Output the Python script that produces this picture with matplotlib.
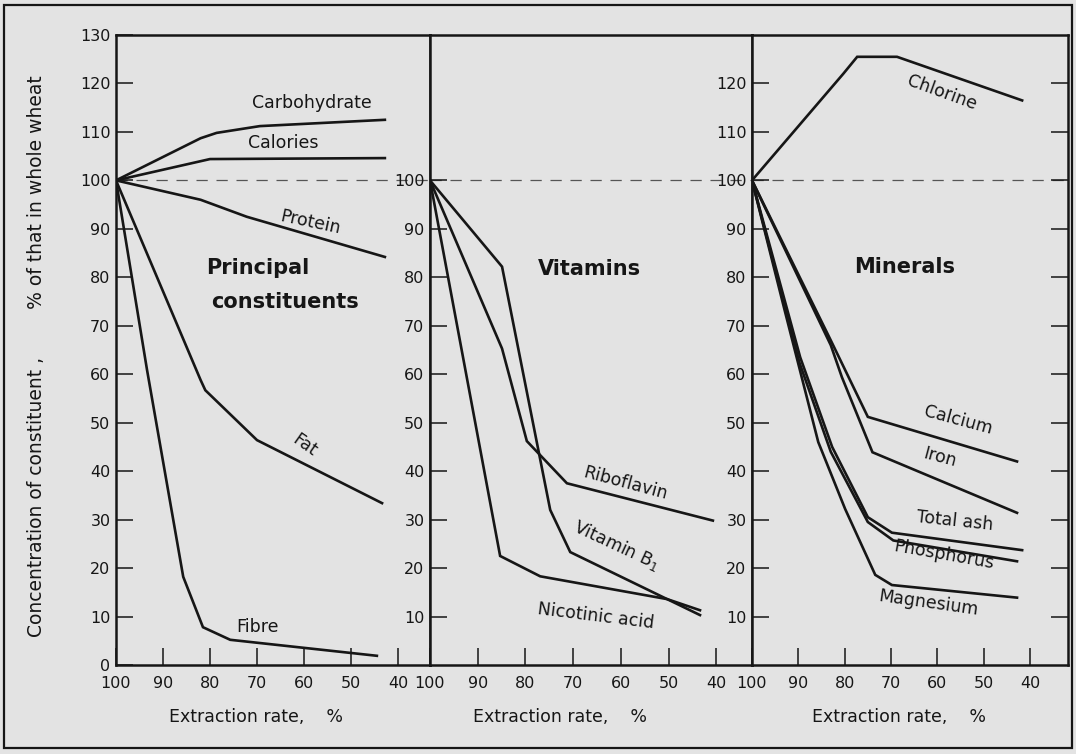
import matplotlib
matplotlib.use("Agg")
import matplotlib.pyplot as plt
from matplotlib.patches import Rectangle

# ---------------- data (extraction rate %, % of whole wheat) ----------------
# Principal constituents
carb_x = [100, 82, 78.6, 69.4, 42.8]
carb_y = [100, 108.7, 109.8, 111.2, 112.5]
cal_x = [100, 80, 42.8]
cal_y = [100, 104.4, 104.6]
prot_x = [100, 82, 72.2, 42.8]
prot_y = [100, 96, 92.5, 84.2]
fat_x = [100, 82, 81, 70, 43.4]
fat_y = [100, 58.8, 56.7, 46.4, 33.4]
fibre_x = [100, 93.4, 85.7, 81.5, 75.7, 44.5]
fibre_y = [100, 60.9, 18.2, 7.8, 5.2, 1.9]

# Vitamins
ribo_x = [100, 84.9, 79.7, 71.3, 40.7]
ribo_y = [100, 65.3, 46.2, 37.5, 29.8]
b1_x = [100, 84.9, 74.8, 70.6, 43.4]
b1_y = [100, 82.2, 32.0, 23.3, 10.3]
nic_x = [100, 85.3, 76.9, 50.3, 43.4]
nic_y = [100, 22.5, 18.3, 13.6, 11.3]

# Minerals
chl_x = [100, 80.3, 77.3, 68.7, 41.7]
chl_y = [100, 122, 125.5, 125.5, 116.5]
calc_x = [100, 83, 75, 42.8]
calc_y = [100, 67, 51.2, 42]
iron_x = [100, 83, 80.6, 74, 42.8]
iron_y = [100, 66, 59.4, 43.9, 31.4]
ash_x = [100, 89.6, 82.7, 75, 69.8, 41.7]
ash_y = [100, 63.5, 45, 30.5, 27.3, 23.7]
phos_x = [100, 89.8, 83, 75, 69.5, 42.8]
phos_y = [100, 62.5, 44, 29.5, 25.7, 21.4]
mag_x = [100, 92.9, 85.7, 79.9, 73.4, 69.8, 42.8]
mag_y = [100, 73, 46, 32.2, 18.6, 16.5, 13.9]

x_ticks = [100, 90, 80, 70, 60, 50, 40]
y_ticks_p1 = list(range(0, 131, 10))
y_ticks_p2 = list(range(10, 101, 10))
y_ticks_p3 = list(range(10, 121, 10))

panel_titles = [["Principal", "constituents"], ["Vitamins"], ["Minerals"]]
y_label = "Concentration of constituent ,        % of that in whole wheat"
x_label = "Extraction rate,    %"

# ---------------- style ----------------
BG = "#e3e3e3"
INK = "#161616"
LW = 1.9
plt.rcParams["font.family"] = ["DejaVu Sans"]

fig = plt.figure(figsize=(10.76, 7.54), dpi=100, facecolor=BG)
W, H = 1076.0, 754.0
bottom = 1 - 665 / H
height = (665 - 35) / H
ax1 = fig.add_axes([116 / W, bottom, (430 - 116) / W, height])
ax2 = fig.add_axes([430 / W, bottom, (752 - 430) / W, height])
ax3 = fig.add_axes([752 / W, bottom, (1068 - 752) / W, height])
axes = [ax1, ax2, ax3]
xlims = [(100, 33.2), (100, 32.5), (100, 31.8)]

for ax, xl in zip(axes, xlims):
    ax.set_facecolor(BG)
    ax.set_xlim(*xl)
    ax.set_ylim(0, 130)
    ax.set_xticks(x_ticks)
    ax.set_xticklabels([str(t) for t in x_ticks])
    ax.tick_params(axis="both", direction="in", length=12, width=1.1,
                   colors=INK, labelsize=11.5)
    ax.tick_params(axis="x", pad=8)
    ax.tick_params(axis="y", pad=4)
    for s in ax.spines.values():
        s.set_linewidth(1.8)
        s.set_color(INK)
    ax.axhline(100, color="#555555", lw=0.9, ls=(0, (9, 7)), zorder=1)

ax1.set_yticks(y_ticks_p1)
ax2.set_yticks(y_ticks_p2)
ax3.set_yticks(y_ticks_p3)
ax3.tick_params(axis="y", right=True, which="both")

# ---------------- curves ----------------
def curve(ax, xs, ys):
    ax.plot(xs, ys, color=INK, lw=LW, solid_joinstyle="miter", zorder=3)

curve(ax1, carb_x, carb_y)
curve(ax1, cal_x, cal_y)
curve(ax1, prot_x, prot_y)
curve(ax1, fat_x, fat_y)
curve(ax1, fibre_x, fibre_y)

curve(ax2, ribo_x, ribo_y)
curve(ax2, b1_x, b1_y)
curve(ax2, nic_x, nic_y)

curve(ax3, chl_x, chl_y)
curve(ax3, calc_x, calc_y)
curve(ax3, iron_x, iron_y)
curve(ax3, ash_x, ash_y)
curve(ax3, phos_x, phos_y)
curve(ax3, mag_x, mag_y)

# ---------------- labels ----------------
LFS = 12.5
def lab(ax, x, y, s, rot=0):
    ax.text(x, y, s, fontsize=LFS, color=INK, rotation=rot,
            ha="center", va="center", rotation_mode="anchor")

lab(ax1, 58.3, 116.0, "Carbohydrate")
lab(ax1, 64.5, 107.7, "Calories")
lab(ax1, 58.7, 91.4, "Protein", -12)
lab(ax1, 59.8, 45.4, "Fat", -35)
lab(ax1, 70.0, 7.8, "Fibre")

lab(ax2, 59.1, 37.5, "Riboflavin", -15)
lab(ax2, 60.8, 24.7, "Vitamin B$_1$", -25)
lab(ax2, 65.2, 10.1, "Nicotinic acid", -7)

lab(ax3, 59.0, 118.0, "Chlorine", -20)
lab(ax3, 55.5, 50.6, "Calcium", -15)
lab(ax3, 59.4, 42.9, "Iron", -15)
lab(ax3, 56.2, 29.8, "Total ash", -6)
lab(ax3, 58.7, 22.7, "Phosphorus", -10)
lab(ax3, 62.0, 12.7, "Magnesium", -8)

TFS = 15
ax1.text(69.8, 81.9, panel_titles[0][0], fontsize=TFS, fontweight="bold",
         ha="center", va="center", color=INK)
ax1.text(64.0, 74.9, panel_titles[0][1], fontsize=TFS, fontweight="bold",
         ha="center", va="center", color=INK)
ax2.text(66.5, 81.7, panel_titles[1][0], fontsize=TFS, fontweight="bold",
         ha="center", va="center", color=INK)
ax3.text(67.0, 82.2, panel_titles[2][0], fontsize=TFS, fontweight="bold",
         ha="center", va="center", color=INK)

fig.text(37 / W, 1 - 356 / H, y_label, rotation=90, ha="center", va="center",
         fontsize=13.5, color=INK)
for cx in (256, 560, 899):
    fig.text(cx / W, 1 - 717 / H, x_label, ha="center", va="center",
             fontsize=12.5, color=INK)

# outer frame of the figure
fig.patches.append(Rectangle((4 / W, 6 / H), (1072 - 4) / W, (749 - 6) / H,
                             transform=fig.transFigure, fill=False,
                             edgecolor=INK, lw=1.6))

fig.savefig("out.png", dpi=100, facecolor=BG)
